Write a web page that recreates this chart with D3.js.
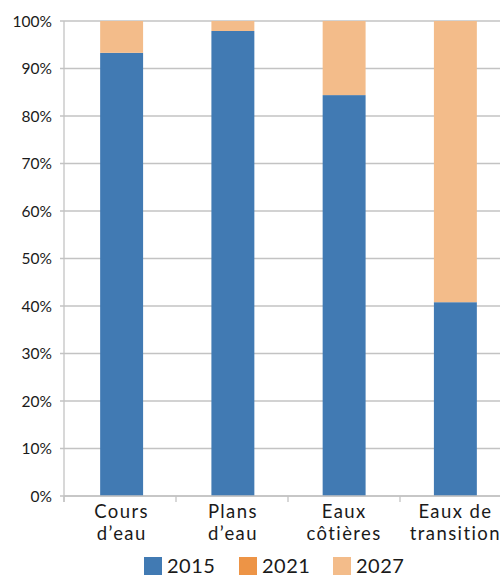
<!DOCTYPE html>
<html><head><meta charset="utf-8">
<script src="https://cdn.jsdelivr.net/npm/d3@7"></script>
<style>body{margin:0;background:#fff}svg{display:block}text{font-family:Lato,"Noto Sans",sans-serif;fill:#1a1a1a}</style>
</head><body>
<script>
const categories = [["Cours", "d\u2019eau"], ["Plans", "d\u2019eau"], ["Eaux", "côtières"], ["Eaux de", "transition"]];
const seriesNames = ["2015", "2021", "2027"];
const v2015 = [93.3, 97.9, 84.4, 40.8];
const v2021 = [0, 0, 0, 0];
const v2027 = [6.7, 2.1, 15.6, 59.2];
const yTicks = [0, 10, 20, 30, 40, 50, 60, 70, 80, 90, 100];
const colors = ["#417AB3", "#ED9446", "#F3BC8A"];

const W = 500, H = 575;
const m = {left: 64, top: 21, right: 512, bottom: 496};
const svg = d3.select("body").append("svg").attr("width", W).attr("height", H);

const keys = categories.map(c => c.join(" "));
const x = d3.scaleBand().domain(keys).range([m.left + 2, m.right - 1]).paddingInner(0.614).paddingOuter(0.307);
const y = d3.scaleLinear().domain([0, 100]).range([m.bottom, m.top]);

// gridlines
svg.append("g").selectAll("line").data(yTicks).join("line")
  .attr("x1", m.left - 4).attr("x2", m.right)
  .attr("y1", d => y(d)).attr("y2", d => y(d))
  .attr("stroke", "#c3c3c3").attr("stroke-width", 1.3);

// y labels
svg.append("g").selectAll("text").data(yTicks).join("text")
  .attr("x", 52).attr("y", d => y(d)).attr("dy", "0.36em")
  .attr("text-anchor", "end").attr("font-size", 15.5)
  .text(d => d + "%");

// stacked bars
const rows = keys.map((k, i) => ({key: k, "2015": v2015[i], "2021": v2021[i], "2027": v2027[i]}));
const stack = d3.stack().keys(seriesNames)(rows);
svg.append("g").selectAll("g").data(stack).join("g")
  .attr("fill", (d, i) => colors[i])
  .selectAll("rect").data(d => d).join("rect")
  .attr("x", d => x(d.data.key)).attr("width", x.bandwidth())
  .attr("y", d => y(d[1])).attr("height", d => Math.max(0, y(d[0]) - y(d[1])));

// axes lines
svg.append("line").attr("x1", m.left).attr("x2", m.left).attr("y1", m.top).attr("y2", m.bottom + 6)
  .attr("stroke", "#c3c3c3").attr("stroke-width", 1.3);
svg.append("line").attr("x1", m.left).attr("x2", m.right).attr("y1", m.bottom).attr("y2", m.bottom)
  .attr("stroke", "#c3c3c3").attr("stroke-width", 1.3);
const step = (m.right - m.left) / keys.length;
svg.append("g").selectAll("line").data(d3.range(keys.length + 1)).join("line")
  .attr("x1", i => m.left + i * step).attr("x2", i => m.left + i * step)
  .attr("y1", m.bottom).attr("y2", m.bottom + 6)
  .attr("stroke", "#c3c3c3").attr("stroke-width", 1.3);

// category labels
const cx = (d, i) => x(keys[i]) + x.bandwidth() / 2;
const cl = svg.append("g").selectAll("text").data(categories).join("text")
  .attr("text-anchor", "middle").attr("font-size", 18.5).attr("letter-spacing", 1.4)
  .attr("x", cx);
cl.append("tspan").attr("y", 518).attr("x", cx).text(d => d[0]);
cl.append("tspan").attr("y", 540).attr("x", cx).text(d => d[1]);

// legend
const lx = [144, 239, 333];
const lg = svg.append("g").selectAll("g").data(seriesNames).join("g")
  .attr("transform", (d, i) => `translate(${lx[i]},557)`);
lg.append("rect").attr("width", 18).attr("height", 18).attr("fill", (d, i) => colors[i]);
lg.append("text").attr("x", 23).attr("y", 16).attr("font-size", 20).attr("letter-spacing", 0.5).text(d => d);
</script>
</body></html>
